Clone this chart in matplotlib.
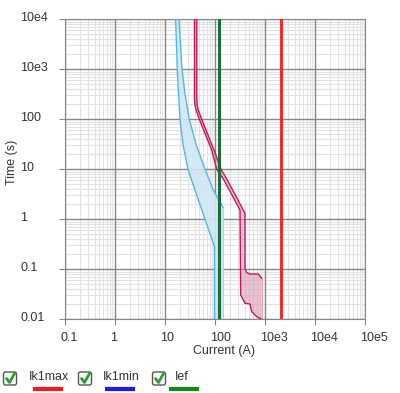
import numpy as np
import matplotlib.pyplot as plt
from matplotlib.patches import FancyBboxPatch
from matplotlib.transforms import ScaledTranslation

plt.rcParams['font.family'] = ['Liberation Sans', 'DejaVu Sans']

# fuse band (blue): lower and upper curve, current (A) vs time (s)
fuse_lo_I = [16.7, 18.0, 19.1, 20.4, 23.4, 29.5, 40.7, 64.6, 100]
fuse_lo_t = [1e4, 1e3, 316, 100, 31.6, 10, 3.85, 1, 0.283]
fuse_hi_I = [19.5, 22.4, 25.7, 31.3, 42.7, 64.6, 94.6, 139, 150]
fuse_hi_t = [1e4, 1e3, 316, 100, 31.6, 10, 3.85, 1.93, 1.67]

# breaker band (crimson): inner and outer curve
brk_in_I = [39.8, 39.8, 40.6, 42.7, 49.7, 87.9, 110.7, 154.9, 323.6, 334, 407, 513, 554, 698, 879]
brk_in_t = [1e4, 260, 190, 155, 100, 24.3, 10, 6.1, 1.53, 0.0306, 0.0209, 0.0202, 0.0142, 0.0113, 0.01]
brk_out_I = [44.3, 44.3, 45.1, 47, 55.5, 97.7, 134.9, 180.3, 407, 407, 440, 513, 752, 879]
brk_out_t = [1e4, 260, 190, 155, 100, 24.3, 10, 6.1, 1.32, 0.105, 0.086, 0.0805, 0.0805, 0.066]

# short-circuit currents
ik1max = 2110
ik1min = 123
ief = 125

xticks = [0.1, 1, 10, 100, 1e3, 1e4, 1e5]
xlabels = ['0.1', '1', '10', '100', '10e3', '10e4', '10e5']
yticks = [0.01, 0.1, 1, 10, 100, 1e3, 1e4]
ylabels = ['0.01', '0.1', '1', '10', '100', '10e3', '10e4']

legend_names = ['Ik1max', 'Ik1min', 'Ief']
legend_colors = ['#ff1a1a', '#1a1aff', '#138a13']

fig = plt.figure(figsize=(4.0, 3.93), dpi=100)
ax = fig.add_axes([64.5 / 400, (393 - 319.3) / 393, 300 / 400, 300 / 393])
ax.set_xscale('log')
ax.set_yscale('log')
ax.set_xlim(0.1, 1e5)
ax.set_ylim(0.01, 1e4)

# light minor grid from the axis, dark decade lines drawn on top of it
ax.grid(True, which='minor', color='#e2e2e2', lw=0.8, ls='-')
ax.grid(False, which='major')
ax.set_axisbelow(True)
for v in xticks:
    ax.axvline(v, color='#868686', lw=1.0, zorder=1)
for v in yticks:
    ax.axhline(v, color='#868686', lw=1.0, zorder=1)
for s in ax.spines.values():
    s.set_color('#868686')
ax.tick_params(which='major', length=4, color='#868686', labelsize=9, labelcolor='#333333')
ax.tick_params(which='minor', length=0)
ax.tick_params(axis='x', pad=5)
ax.set_xticks(xticks)
ax.set_xticklabels(xlabels)
ax.set_yticks(yticks)
ax.set_yticklabels(ylabels)
for lab in ax.get_xticklabels():
    lab.set_ha('left')
    lab.set_transform(lab.get_transform() + ScaledTranslation(-4 / 100, 0, fig.dpi_scale_trans))
for lab in ax.get_yticklabels():
    lab.set_ha('left')
    lab.set_transform(lab.get_transform() + ScaledTranslation(-34 / 100, 3 / 100, fig.dpi_scale_trans))

# fuse band
fx = fuse_lo_I + [fuse_lo_I[-1], fuse_hi_I[-1]] + fuse_hi_I[::-1]
fy = fuse_lo_t + [0.01, 0.01] + fuse_hi_t[::-1]
ax.fill(fx, fy, color='#cfe7f5', alpha=0.9, lw=0, zorder=2)
ax.plot(fuse_lo_I + [fuse_lo_I[-1]], fuse_lo_t + [0.01], color='#55b6e4', lw=1.0, zorder=3)
ax.plot(fuse_hi_I, fuse_hi_t, color='#55b6e4', lw=1.0, zorder=3)
ax.plot([fuse_hi_I[-1], fuse_hi_I[-1]], [fuse_hi_t[-1], 0.01], color='#a9d8f0', lw=0.8, zorder=3)

# breaker band
bx = brk_out_I + [brk_out_I[-1]] + brk_in_I[::-1]
by = brk_out_t + [0.01] + brk_in_t[::-1]
ax.fill(bx, by, color='#d98aaa', alpha=0.5, lw=0, zorder=2)
ax.plot(brk_in_I, brk_in_t, color='#c2185b', lw=1.0, zorder=3)
ax.plot(brk_out_I, brk_out_t, color='#c2185b', lw=1.0, zorder=3)
ax.plot([brk_out_I[-1], brk_out_I[-1]], [brk_out_t[-1], 0.01], color='#e3a6bf', lw=0.8, zorder=3)

# vertical current lines
ax.plot([ik1max, ik1max], [1e4, 0.0109], color=legend_colors[0], lw=2.0, zorder=4)
ax.plot([ik1min, ik1min], [1e4, 0.0107], color='#2a5fa0', lw=2.0, zorder=4)
ax.plot([ief, ief], [1e4, 0.0107], color='#1b6e3c', lw=2.2, zorder=5)

fig.text(224 / 400, 1 - 351 / 393, 'Current (A)', ha='center', va='center', fontsize=9, color='#333333')
fig.text(12.5 / 400, 1 - 162 / 393, 'Time (s)', ha='center', va='center', rotation=90, fontsize=9, color='#333333')

# legend with checkboxes, drawn in pixel coordinates
ov = fig.add_axes([0, 0, 1, 1])
ov.set_xlim(0, 400)
ov.set_ylim(393, 0)
ov.axis('off')
box_x = [3.5, 78.5, 152.5]
text_x = [28.5, 102.5, 174.5]
line_x = [32.5, 105, 169]
for bx0, tx, lx, name, col in zip(box_x, text_x, line_x, legend_names, legend_colors):
    ov.add_patch(FancyBboxPatch((bx0, 372), 13, 13, boxstyle='round,pad=0,rounding_size=2',
                                fc='white', ec='#555555', lw=1.0))
    ov.plot([bx0 + 3, bx0 + 6, bx0 + 11], [378.5, 382.5, 373.5], color='#2e9e2e', lw=2.0,
            solid_capstyle='round', solid_joinstyle='round')
    ov.text(tx, 377, name, ha='left', va='center', fontsize=9, color='#333333')
    ov.plot([lx, lx + 30], [389, 389], color=col, lw=3.0, solid_capstyle='butt')

fig.savefig('out.png', dpi=100)
